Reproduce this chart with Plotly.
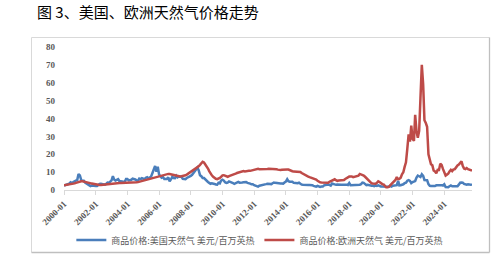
import plotly.graph_objects as go
import pandas as pd

start_month = "2000-01-01"

us_gas = [
    2.4, 2.6, 2.8, 3.0, 3.6, 4.3, 4.0, 4.4, 5.1, 5.3, 5.6, 8.9,
    8.2, 5.6, 5.2, 5.2, 4.2, 3.7, 3.1, 3.0, 2.2, 2.5, 2.3, 2.4,
    2.3, 2.3, 3.0, 3.4, 3.5, 3.2, 3.0, 3.0, 3.5, 4.1, 4.0, 4.7,
    5.4, 7.7, 5.9, 5.3, 5.8, 6.1, 5.0, 4.9, 4.6, 4.6, 4.5, 6.1,
    6.1, 5.4, 5.4, 5.7, 6.3, 6.2, 5.9, 5.4, 5.1, 6.4, 6.1, 6.6,
    6.2, 6.1, 6.9, 7.2, 6.5, 7.1, 7.6, 9.5, 11.9, 13.4, 10.3, 13.0,
    8.7, 7.5, 6.9, 7.2, 6.2, 6.2, 6.2, 7.1, 4.9, 5.9, 7.4, 6.7,
    6.6, 8.0, 7.1, 7.6, 7.6, 7.4, 6.2, 6.2, 6.1, 6.7, 7.1, 7.1,
    7.9, 8.5, 9.4, 10.1, 11.3, 12.5, 11.1, 8.3, 7.7, 6.7, 6.7, 5.8,
    5.2, 4.5, 4.0, 3.5, 3.8, 3.8, 3.4, 3.1, 3.0, 4.0, 3.7, 5.3,
    5.8, 5.3, 4.3, 4.0, 4.1, 4.8, 4.6, 4.3, 3.9, 3.4, 3.8, 4.2,
    4.5, 4.1, 4.0, 4.2, 4.3, 4.5, 4.4, 4.0, 3.9, 3.6, 3.2, 3.2,
    2.7, 2.5, 2.2, 1.9, 2.4, 2.5, 2.9, 2.8, 2.8, 3.3, 3.5, 3.3,
    3.3, 3.3, 3.8, 4.2, 4.0, 3.8, 3.6, 3.4, 3.6, 3.7, 3.6, 4.2,
    4.7, 6.0, 4.9, 4.6, 4.6, 4.6, 4.0, 3.9, 3.9, 3.8, 4.1, 3.5,
    3.0, 2.9, 2.8, 2.6, 2.8, 2.8, 2.8, 2.8, 2.7, 2.3, 2.1, 1.9,
    2.3, 2.0, 1.7, 1.9, 1.9, 2.6, 2.8, 2.8, 3.0, 2.9, 2.5, 3.6,
    3.3, 2.8, 2.9, 3.1, 3.2, 3.0, 3.0, 2.9, 3.0, 2.9, 3.0, 2.8,
    3.9, 2.7, 2.7, 2.8, 2.8, 2.9, 2.8, 2.9, 3.0, 3.3, 4.1, 4.0,
    3.1, 2.7, 2.9, 2.6, 2.6, 2.4, 2.4, 2.2, 2.6, 2.3, 2.6, 2.2,
    2.0, 1.9, 1.8, 1.7, 1.7, 1.6, 1.8, 2.3, 1.9, 2.4, 2.6, 2.6,
    2.7, 5.1, 2.6, 2.7, 2.9, 3.2, 3.8, 4.1, 5.2, 5.5, 5.1, 3.8,
    4.4, 4.7, 5.0, 7.0, 8.1, 7.7, 7.3, 8.8, 7.9, 5.6, 5.5, 5.5,
    3.3, 2.4, 2.3, 2.2, 2.1, 2.2, 2.6, 2.6, 2.6, 3.0, 2.7, 2.5,
    3.2, 1.7, 1.5, 1.6, 2.1, 2.5, 2.1, 2.0, 2.3, 2.2, 2.1, 3.0,
    4.1, 4.2, 4.1, 3.4, 3.1, 3.0, 3.2, 2.9, 2.9, 3.2,
]

eu_gas = [
    2.7, 2.8, 2.9, 3.0, 3.1, 3.2, 3.4, 3.5, 3.7, 4.0, 4.3, 4.6,
    4.8, 4.9, 4.9, 4.8, 4.7, 4.5, 4.2, 4.0, 3.8, 3.6, 3.4, 3.2,
    3.1, 3.0, 2.9, 2.8, 2.8, 2.9, 2.9, 3.0, 3.0, 3.1, 3.2, 3.4,
    3.6, 3.8, 3.9, 4.0, 4.0, 4.0, 3.9, 3.9, 3.9, 3.9, 3.9, 4.0,
    4.0, 4.0, 4.0, 4.1, 4.1, 4.1, 4.2, 4.3, 4.4, 4.6, 4.8, 5.0,
    5.2, 5.4, 5.6, 5.8, 5.9, 6.0, 6.2, 6.4, 6.6, 6.9, 7.2, 7.5,
    7.8, 8.0, 8.2, 8.4, 8.6, 8.8, 8.9, 9.0, 8.9, 8.7, 8.5, 8.3,
    8.1, 7.9, 7.7, 7.6, 7.6, 7.7, 7.8, 8.0, 8.2, 8.6, 9.1, 9.6,
    10.2, 10.6, 11.0, 11.4, 12.0, 12.6, 13.3, 14.1, 15.0, 15.8, 15.4, 14.5,
    13.3, 12.0, 10.6, 9.2, 8.2, 7.4, 6.8, 6.3, 6.1, 6.3, 6.8, 7.4,
    8.2, 8.3, 7.9, 7.5, 7.4, 7.8, 8.0, 8.2, 8.5, 8.9, 9.2, 9.5,
    9.7, 9.8, 10.4, 10.5, 10.6, 10.4, 10.6, 10.7, 10.7, 10.7, 10.9, 11.0,
    11.2, 11.5, 11.7, 11.8, 11.6, 11.6, 11.4, 11.5, 11.5, 11.6, 11.8, 11.9,
    11.9, 11.9, 12.0, 11.8, 11.8, 11.6, 11.4, 11.2, 11.2, 11.3, 11.4, 11.6,
    11.6, 11.4, 11.4, 11.0, 10.8, 10.5, 10.3, 10.2, 10.1, 10.2, 10.2, 10.1,
    9.5, 9.0, 8.5, 8.1, 7.8, 7.5, 7.2, 7.0, 6.8, 6.6, 6.3, 5.8,
    5.2, 4.6, 4.3, 4.2, 4.1, 4.2, 4.3, 4.2, 4.1, 4.6, 5.0, 5.6,
    6.0, 6.0, 5.5, 5.1, 5.3, 5.3, 5.3, 5.3, 5.6, 6.2, 6.7, 7.2,
    7.5, 7.5, 7.6, 7.2, 7.5, 7.6, 7.8, 8.0, 9.0, 8.8, 8.3, 8.1,
    7.4, 6.6, 5.6, 4.9, 4.2, 3.7, 3.6, 3.5, 3.5, 4.0, 4.9, 4.5,
    3.8, 3.3, 3.1, 2.0, 1.6, 1.6, 1.8, 2.6, 3.5, 4.0, 4.7, 5.6,
    7.2, 6.1, 6.2, 6.9, 8.8, 9.9, 12.9, 15.5, 23.2, 31.1, 27.1, 36.0,
    28.5, 27.5, 42.1, 32.8, 29.2, 33.1, 51.4, 70.0, 59.1, 39.0, 37.5, 35.4,
    20.0, 16.7, 14.4, 13.8, 10.9, 10.4, 9.4, 11.3, 11.2, 14.7, 14.0, 11.8,
    9.8, 8.1, 8.6, 9.1, 10.4, 11.3, 10.6, 11.5, 11.7, 13.0, 13.7, 14.2,
    15.0, 16.0, 13.6, 12.0, 11.7, 12.3, 11.7, 11.3, 11.0, 10.8,
]

series_names = ["商品价格:美国天然气 美元/百万英热", "商品价格:欧洲天然气 美元/百万英热"]
title_text = "图 3、美国、欧洲天然气价格走势"
y_ticks = [0, 10, 20, 30, 40, 50, 60, 70, 80]

dates = pd.date_range(start_month, periods=len(us_gas), freq="MS")

fig = go.Figure()
fig.add_trace(go.Scatter(x=dates, y=us_gas, mode="lines", name=series_names[0],
                         line=dict(color="#4a7ebb", width=2.5)))
fig.add_trace(go.Scatter(x=dates, y=eu_gas, mode="lines", name=series_names[1],
                         line=dict(color="#be4b48", width=2.5)))

L, R, T, B = 64, 26, 47, 87
W, H = 498, 277
pw, ph = W - L - R, H - T - B
def px(xp):
    return (xp - L) / pw
def py(yp):
    return (H - B - yp) / ph

box_left, box_right, box_top, box_bottom = 31.5, 489.5, 37.5, 252.5
shapes = [
    dict(type="line", xref="paper", yref="paper", x0=px(box_left), x1=px(box_right),
         y0=py(box_top), y1=py(box_top), line=dict(color="#d9d9d9", width=1)),
    dict(type="line", xref="paper", yref="paper", x0=px(box_left), x1=px(box_left),
         y0=py(box_top), y1=py(box_bottom), line=dict(color="#d9d9d9", width=1)),
    dict(type="line", xref="paper", yref="paper", x0=px(box_right), x1=px(box_right),
         y0=py(box_top), y1=py(box_bottom), line=dict(color="#bfbfbf", width=1.3)),
    dict(type="line", xref="paper", yref="paper", x0=px(box_left), x1=px(box_right),
         y0=py(box_bottom), y1=py(box_bottom), line=dict(color="#bfbfbf", width=1.3)),
]

fig.update_layout(
    width=W, height=H,
    margin=dict(l=L, r=R, t=T, b=B),
    paper_bgcolor="white", plot_bgcolor="white",
    showlegend=True,
    legend=dict(orientation="h", x=0.48, xanchor="center", y=py(240), yanchor="middle",
                font=dict(family="Noto Sans CJK SC", size=9, color="#595959"),
                itemwidth=30, bgcolor="rgba(0,0,0,0)"),
    shapes=shapes,
    annotations=[dict(text=title_text, xref="paper", yref="paper", x=px(35), y=py(11),
                      xanchor="left", yanchor="middle", showarrow=False,
                      font=dict(family="Noto Sans CJK SC", size=15, color="#000000"))],
)
fig.update_xaxes(
    type="date", range=[dates[0], dates[-1]],
    tick0=start_month, dtick="M24", tickformat="%Y-%m", tickangle=-45,
    showgrid=False, showline=True, linecolor="#d9d9d9", linewidth=1,
    ticks="outside", ticklen=4, tickcolor="#d9d9d9",
    tickfont=dict(family="Liberation Serif", size=9, color="#595959", weight="bold"),
    zeroline=False,
)
fig.update_yaxes(
    range=[0, 80], tickvals=y_ticks, showgrid=False, showline=False, zeroline=False,
    ticks="", ticklabelstandoff=8,
    tickfont=dict(family="Liberation Serif", size=9, color="#595959", weight="bold"),
)
fig.write_html("out.html")
